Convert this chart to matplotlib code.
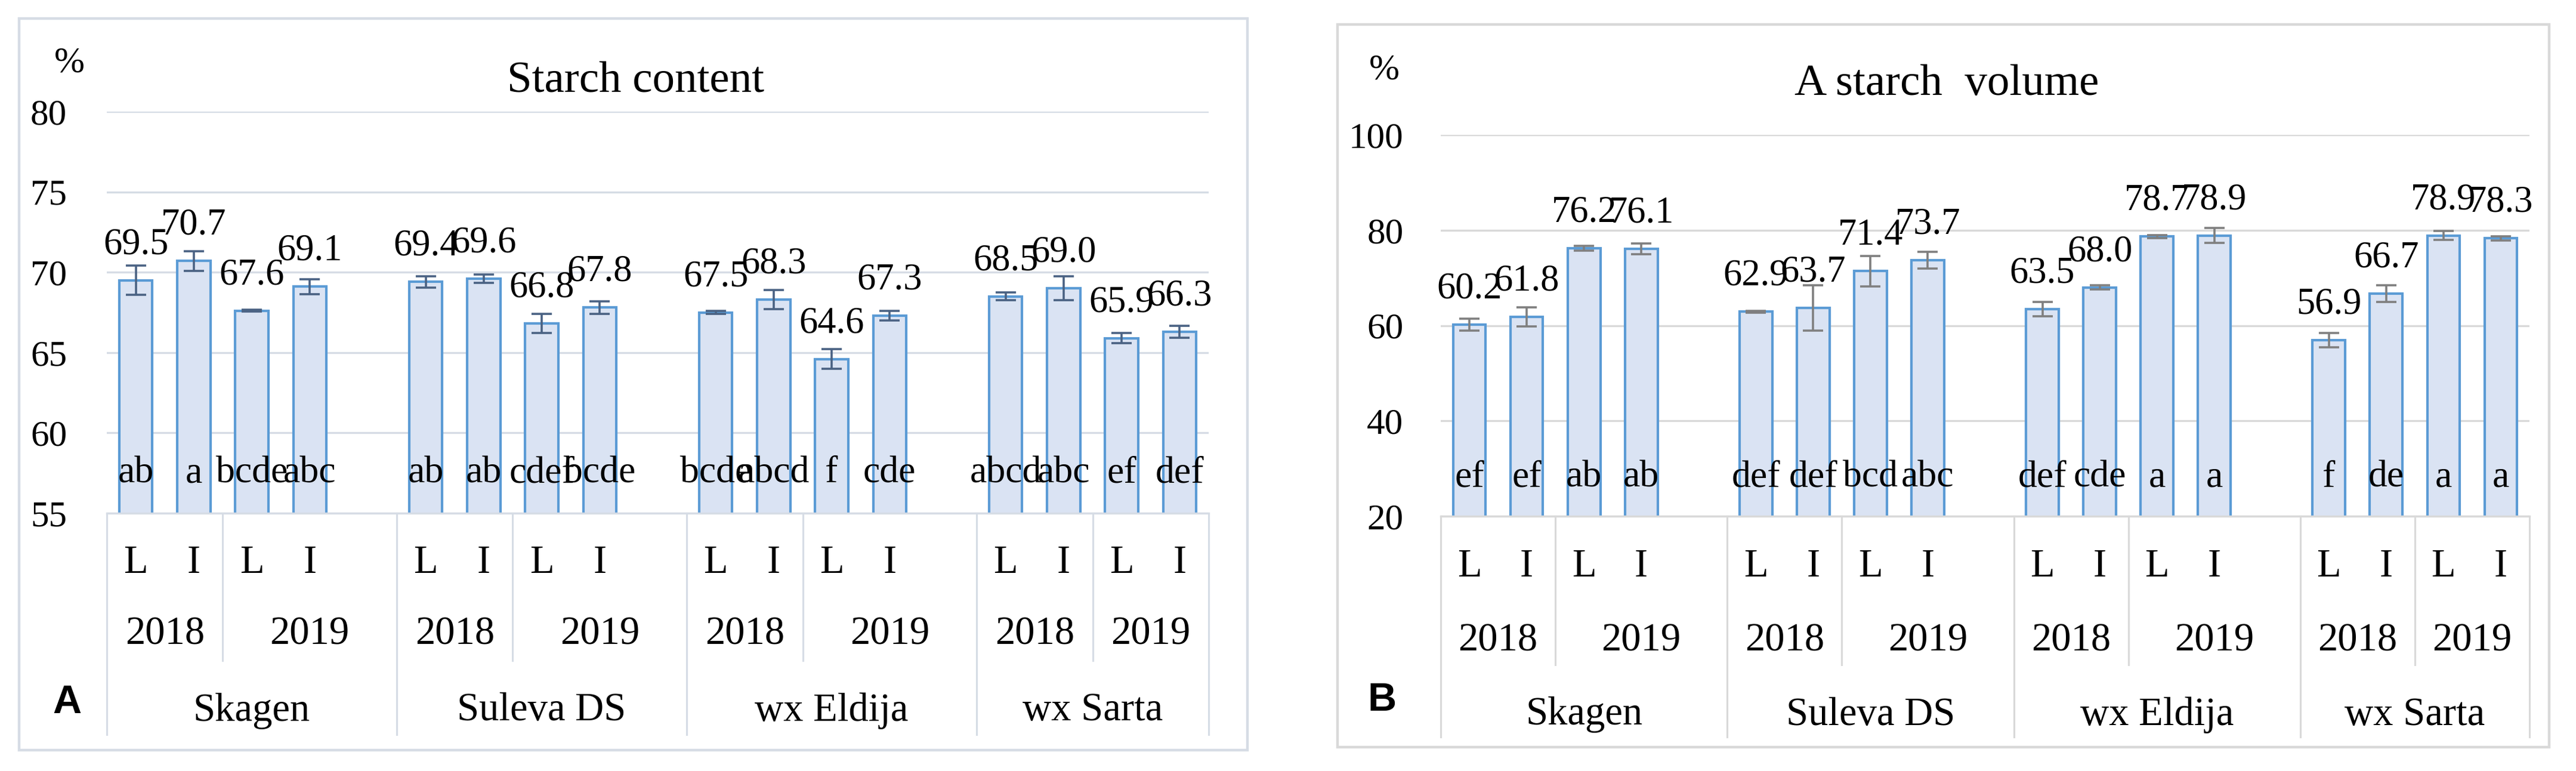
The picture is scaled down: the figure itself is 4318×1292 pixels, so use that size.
import matplotlib
matplotlib.use('Agg')
import matplotlib.pyplot as plt
import matplotlib.transforms as mtransforms
from matplotlib.patches import Rectangle

# ---------------- data ----------------
varieties = ['Skagen', 'Suleva DS', 'wx Eldija', 'wx Sarta']
years = ['2018', '2019']
treatments = ['L', 'I']

starch_content = [69.5, 70.7, 67.6, 69.1,
                  69.4, 69.6, 66.8, 67.8,
                  67.5, 68.3, 64.6, 67.3,
                  68.5, 69.0, 65.9, 66.3]
starch_content_err = [0.9, 0.6, 0.05, 0.45,
                      0.35, 0.25, 0.6, 0.4,
                      0.1, 0.58, 0.6, 0.3,
                      0.25, 0.75, 0.3, 0.38]
starch_content_letters = ['ab', 'a', 'bcde', 'abc',
                          'ab', 'ab', 'cdef', 'bcde',
                          'bcde', 'abcd', 'f', 'cde',
                          'abcd', 'abc', 'ef', 'def']

a_starch_volume = [60.2, 61.8, 76.2, 76.1,
                   62.9, 63.7, 71.4, 73.7,
                   63.5, 68.0, 78.7, 78.9,
                   56.9, 66.7, 78.9, 78.3]
a_starch_volume_err = [1.3, 2.0, 0.5, 1.1,
                       0.2, 4.8, 3.2, 1.75,
                       1.5, 0.4, 0.3, 1.6,
                       1.5, 1.8, 0.9, 0.4]
a_starch_volume_letters = ['ef', 'ef', 'ab', 'ab',
                           'def', 'def', 'bcd', 'abc',
                           'def', 'cde', 'a', 'a',
                           'f', 'de', 'a', 'a']

# ---------------- layout ----------------
W, H = 4318, 1292
fig = plt.figure(figsize=(W / 100, H / 100), dpi=100)
SERIF = ['Liberation Serif', 'DejaVu Serif']
plt.rcParams['font.family'] = SERIF


def fx(px):
    return px / W


def fy(py):
    return 1 - py / H


# category slots: first three varieties have an extra empty slot in 2019
slots_2019 = [3, 3, 3, 2]
bar_x, var_spans, year_div, year_centers = [], [], [], []
start = 0
for vi, v in enumerate(varieties):
    n19 = slots_2019[vi]
    var_spans.append((start - 0.5, start + 2 + n19 - 0.5))
    year_div.append(start + 1.5)
    year_centers.append((start + 0.5, start + 2 + (n19 - 1) / 2))
    for k in range(4):
        bar_x.append(start + k)
    start += 2 + n19
n_slots = start


def panel(rect_px, frame_px, values, errs, letters, ylim, yticks, grid_c,
          err_c, line_c, title, title_xy, pct_xy, tag, tag_xy, rows_py,
          table_bottom, year_bottom, tick_pad):
    left, top, right, bottom = rect_px
    ax = fig.add_axes([fx(left), fy(bottom), (right - left) / W,
                       (bottom - top) / H])
    ax.bar(bar_x, values, width=0.57, bottom=0, color='#DAE3F3',
           edgecolor='#5B9BD5', linewidth=3.0, zorder=2)
    ax.errorbar(bar_x, values, yerr=errs, fmt='none', ecolor=err_c,
                elinewidth=2.6, capsize=12, capthick=2.6, zorder=3)
    ax.set_xlim(-0.5, n_slots - 0.5)
    ax.set_ylim(*ylim)
    ax.set_yticks(yticks)
    ax.set_yticklabels([str(t) for t in yticks])
    ax.tick_params(axis='y', length=0, pad=tick_pad, labelsize=44)
    ax.set_xticks([])
    ax.yaxis.grid(True, color=grid_c, linewidth=2.4)
    ax.set_axisbelow(True)
    for s in ['left', 'right', 'top']:
        ax.spines[s].set_visible(False)
    ax.spines['bottom'].set_color(line_c)
    ax.spines['bottom'].set_linewidth(2.4)

    for x, v in zip(bar_x, values):
        ax.annotate(f'{v:.1f}', xy=(x, v), xytext=(0, 32),
                    textcoords='offset points', ha='center', va='baseline',
                    fontsize=45, zorder=4)
    for x, t in zip(bar_x, letters):
        ax.text(x, 0.077, t, transform=ax.get_xaxis_transform(),
                ha='center', va='baseline', fontsize=46, zorder=4)

    trans = mtransforms.blended_transform_factory(ax.transData,
                                                  fig.transFigure)
    # multi-level category table
    for (a, b) in var_spans:
        for xx in (a, b):
            ax.plot([xx, xx], [fy(bottom), fy(table_bottom)], transform=trans,
                    color=line_c, lw=2.2, clip_on=False)
    for xx in year_div:
        ax.plot([xx, xx], [fy(bottom), fy(year_bottom)], transform=trans,
                color=line_c, lw=2.2, clip_on=False)
    r_treat, r_year, r_var = rows_py
    start = 0
    for vi, v in enumerate(varieties):
        for k in range(4):
            ax.text(start + k, fy(r_treat), treatments[k % 2], transform=trans,
                    ha='center', va='center', fontsize=48)
        for yi, yr in enumerate(years):
            ax.text(year_centers[vi][yi], fy(r_year), yr, transform=trans,
                    ha='center', va='center', fontsize=48)
        a, b = var_spans[vi]
        ax.text((a + b) / 2, fy(r_var), v, transform=trans,
                ha='center', va='center', fontsize=48)
        start += 2 + slots_2019[vi]

    fig.text(fx(title_xy[0]), fy(title_xy[1]), title, ha='center',
             va='center', fontsize=54)
    fig.text(fx(pct_xy[0]), fy(pct_xy[1]), '%', ha='center', va='center',
             fontsize=44)
    fig.text(fx(tag_xy[0]), fy(tag_xy[1]), tag, ha='center', va='center',
             fontsize=48, fontweight='bold',
             family=['Liberation Sans', 'DejaVu Sans'])
    fl, ft, fr, fb = frame_px
    fig.patches.append(Rectangle((fx(fl), fy(fb)), (fr - fl) / W,
                                 (fb - ft) / H, transform=fig.transFigure,
                                 fill=False, edgecolor=line_c, lw=3.2))
    return ax


panel((179, 187, 2026, 860), (32, 31, 2091, 1257),
      starch_content, starch_content_err, starch_content_letters,
      (55, 80), [55, 60, 65, 70, 75, 80], '#D6DCE5', '#4A6283', '#D6DCE5',
      'Starch content', (1066, 137), (116, 106), 'A', (112, 1178),
      (944, 1063, 1191), 1231, 1107, 48)

panel((2415, 226, 4240, 865), (2242, 41, 4273, 1252),
      a_starch_volume, a_starch_volume_err, a_starch_volume_letters,
      (20, 100), [20, 40, 60, 80, 100], '#D9D9D9', '#7F7F7F', '#D9D9D9',
      'A starch  volume', (3263, 141), (2320, 118), 'B', (2317, 1174),
      (949, 1074, 1198), 1235, 1114, 45)

fig.savefig('out.png', dpi=100, facecolor='white')
